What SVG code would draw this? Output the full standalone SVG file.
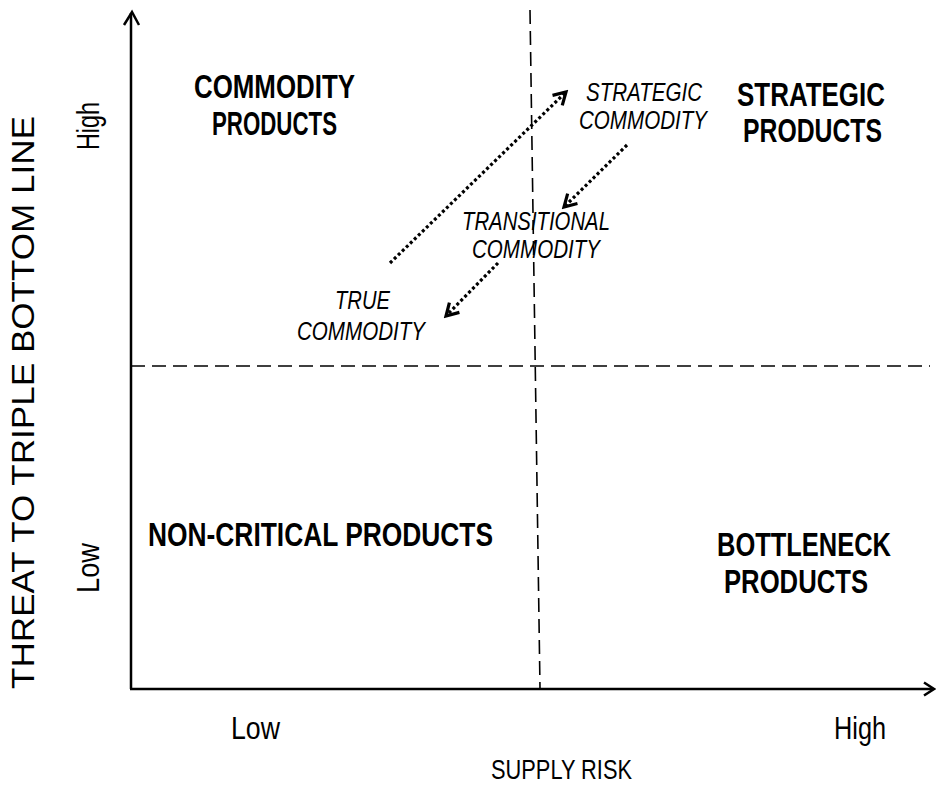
<svg xmlns="http://www.w3.org/2000/svg" width="936" height="785" viewBox="0 0 936 785">
<style>
  .bold { font-family: "Liberation Sans Narrow", "Liberation Sans", Arial, sans-serif; font-weight: bold; font-size: 34px; fill: #000; }
  .ital { font-family: "Liberation Sans Narrow", "Liberation Sans", Arial, sans-serif; font-style: italic; font-size: 25.5px; fill: #000; }
  .reg { font-family: "Liberation Sans Narrow", "Liberation Sans", Arial, sans-serif; font-size: 32px; fill: #000; }
  .ylab { font-family: "Liberation Sans", Arial, sans-serif; font-size: 31px; fill: #000; }
  .xlab { font-family: "Liberation Sans Narrow", "Liberation Sans", Arial, sans-serif; font-size: 28px; fill: #000; }
  .axis { stroke: #000; stroke-width: 2.5; fill: none; }
  .dash { stroke: #000; stroke-width: 1.6; stroke-dasharray: 14 7; fill: none; }
  .dot { stroke: #000; stroke-width: 3.2; stroke-dasharray: 3 2.6; fill: none; }
</style>
<defs>
  <marker id="head" viewBox="0 0 18 18" refX="15" refY="9" markerWidth="18" markerHeight="18" markerUnits="userSpaceOnUse" orient="auto">
    <path d="M3,2 L15,9 L3,16" stroke="#000" stroke-width="3.2" fill="none" stroke-dasharray="none"/>
  </marker>
</defs>
<rect x="0" y="0" width="936" height="785" fill="#fff"/>

<g id="axes">
  <line class="dash" x1="131" y1="366" x2="930" y2="366"/>
  <line class="dash" x1="530" y1="10" x2="540" y2="688"/>
  <line class="axis" x1="131" y1="689" x2="131" y2="13"/>
  <path class="axis" d="M124,25 L132,12 L139,25"/>
  <line class="axis" x1="130" y1="689" x2="933" y2="689"/>
  <path class="axis" d="M924,682.5 L934,689 L924,695.5"/>
</g>

<g id="connectors">
  <line class="dot" x1="390" y1="263" x2="566" y2="92" marker-end="url(#head)"/>
  <line class="dot" x1="627" y1="145" x2="564" y2="207" marker-end="url(#head)"/>
  <line class="dot" x1="498" y1="263" x2="446" y2="316" marker-end="url(#head)"/>
</g>

<g id="commodity-products">
  <text class="bold" x="194" y="98" textLength="161" lengthAdjust="spacingAndGlyphs">COMMODITY</text>
  <text class="bold" x="212" y="135" textLength="125" lengthAdjust="spacingAndGlyphs">PRODUCTS</text>
</g>
<g id="strategic-products">
  <text class="bold" x="737" y="106" textLength="148" lengthAdjust="spacingAndGlyphs">STRATEGIC</text>
  <text class="bold" x="743" y="142" textLength="139" lengthAdjust="spacingAndGlyphs">PRODUCTS</text>
</g>
<g id="non-critical-products">
  <text class="bold" x="148" y="546" textLength="345" lengthAdjust="spacingAndGlyphs">NON-CRITICAL PRODUCTS</text>
</g>
<g id="bottleneck-products">
  <text class="bold" x="717" y="556" textLength="174" lengthAdjust="spacingAndGlyphs">BOTTLENECK</text>
  <text class="bold" x="724" y="593" textLength="144" lengthAdjust="spacingAndGlyphs">PRODUCTS</text>
</g>

<g id="strategic-commodity">
  <text class="ital" x="586" y="101" textLength="116" lengthAdjust="spacingAndGlyphs">STRATEGIC</text>
  <text class="ital" x="579" y="129" textLength="128" lengthAdjust="spacingAndGlyphs">COMMODITY</text>
</g>
<g id="transitional-commodity">
  <text class="ital" x="462" y="230" textLength="148" lengthAdjust="spacingAndGlyphs">TRANSITIONAL</text>
  <text class="ital" x="472" y="258" textLength="128" lengthAdjust="spacingAndGlyphs">COMMODITY</text>
</g>
<g id="true-commodity">
  <text class="ital" x="335" y="309" textLength="55" lengthAdjust="spacingAndGlyphs">TRUE</text>
  <text class="ital" x="297" y="340" textLength="128" lengthAdjust="spacingAndGlyphs">COMMODITY</text>
</g>

<g id="y-axis-labels">
  <text class="reg" transform="translate(99,150) rotate(-90)" x="0" y="0" textLength="48" lengthAdjust="spacingAndGlyphs">High</text>
  <text class="reg" transform="translate(99,593) rotate(-90)" x="0" y="0" textLength="50" lengthAdjust="spacingAndGlyphs">Low</text>
  <text class="ylab" transform="translate(34,689) rotate(-90)" x="0" y="0" textLength="573" lengthAdjust="spacingAndGlyphs">THREAT TO TRIPLE BOTTOM LINE</text>
</g>
<g id="x-axis-labels">
  <text class="reg" x="231" y="739" textLength="49" lengthAdjust="spacingAndGlyphs">Low</text>
  <text class="reg" x="834" y="739" textLength="52" lengthAdjust="spacingAndGlyphs">High</text>
  <text class="xlab" x="491" y="779" textLength="141" lengthAdjust="spacingAndGlyphs">SUPPLY RISK</text>
</g>
</svg>
